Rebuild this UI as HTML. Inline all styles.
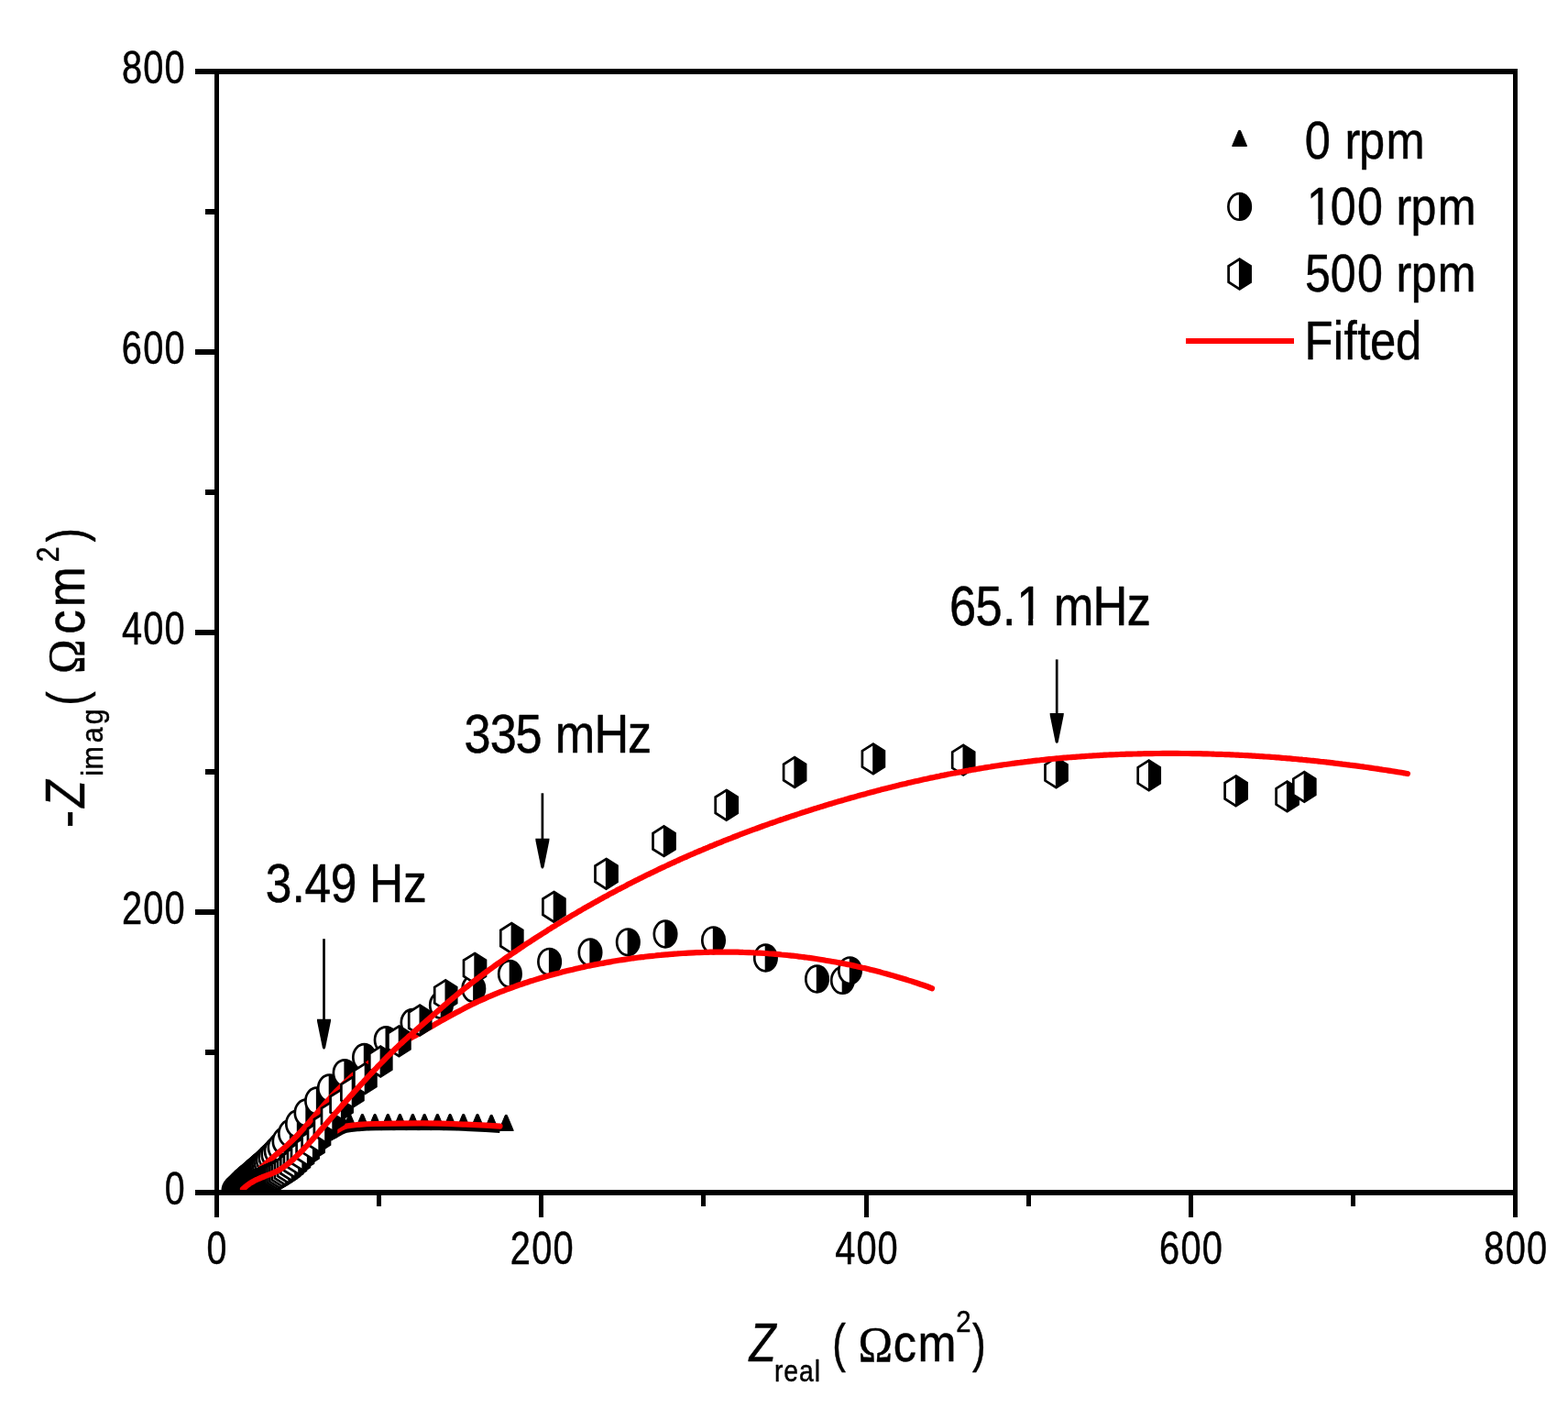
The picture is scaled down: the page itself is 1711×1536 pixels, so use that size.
<!DOCTYPE html>
<html lang="en"><head><meta charset="utf-8"><title>Nyquist plot</title>
<style>html,body{margin:0;padding:0;background:#fff;overflow:hidden}svg{display:block}text{white-space:pre}</style></head>
<body>
<svg width="1711" height="1536" viewBox="0 0 1711 1536" font-family='"Liberation Sans", sans-serif' fill="#000">
<defs>
<g id="tr"><path d="M-0.9,-8.6 L0.9,-8.6 L8,8.4 L-8,8.4 Z" fill="#000" stroke="#000" stroke-width="1" stroke-linejoin="round"/></g>
<g id="ci"><ellipse cx="0" cy="0" rx="12.2" ry="14.3" fill="#fff" stroke="#000" stroke-width="2.7"/><path d="M-0.7,-14.3 L0,-14.3 A12.2,14.3 0 0 1 0,14.3 L-0.7,14.3 Z" fill="#000"/></g>
<g id="hx"><path d="M0,-16.3 L12,-8.7 L12,8.7 L0,16.3 L-12,8.7 L-12,-8.7 Z" fill="#fff" stroke="#000" stroke-width="2.7" stroke-linejoin="miter"/><path d="M-0.7,-16.3 L0,-16.3 L12,-8.7 L12,8.7 L0,16.3 L-0.7,16.3 Z" fill="#000"/></g>
<clipPath id="cp"><rect x="236.5" y="78.0" width="1417.0" height="1225.0"/></clipPath>
</defs>
<rect width="1711" height="1536" fill="#fff"/>
<g clip-path="url(#cp)">
<g><use href="#tr" x="262.2" y="1299.9"/><use href="#tr" x="263.4" y="1299.5"/><use href="#tr" x="264.5" y="1299.1"/><use href="#tr" x="265.6" y="1298.7"/><use href="#tr" x="266.8" y="1298.3"/><use href="#tr" x="267.9" y="1297.9"/><use href="#tr" x="269.0" y="1297.5"/><use href="#tr" x="270.2" y="1297.1"/><use href="#tr" x="271.3" y="1296.7"/><use href="#tr" x="272.4" y="1296.3"/><use href="#tr" x="273.6" y="1295.9"/><use href="#tr" x="274.7" y="1295.5"/><use href="#tr" x="275.8" y="1295.1"/><use href="#tr" x="277.0" y="1294.7"/><use href="#tr" x="278.1" y="1294.3"/><use href="#tr" x="279.2" y="1293.9"/><use href="#tr" x="280.3" y="1293.4"/><use href="#tr" x="281.4" y="1293.0"/><use href="#tr" x="282.5" y="1292.5"/><use href="#tr" x="283.6" y="1292.0"/><use href="#tr" x="284.7" y="1291.5"/><use href="#tr" x="285.8" y="1291.1"/><use href="#tr" x="286.9" y="1290.6"/><use href="#tr" x="288.0" y="1290.1"/><use href="#tr" x="289.1" y="1289.7"/><use href="#tr" x="290.2" y="1289.2"/><use href="#tr" x="291.3" y="1288.7"/><use href="#tr" x="292.4" y="1288.2"/><use href="#tr" x="293.5" y="1287.7"/><use href="#tr" x="294.6" y="1287.2"/><use href="#tr" x="295.7" y="1286.7"/><use href="#tr" x="296.8" y="1286.1"/><use href="#tr" x="298.0" y="1285.5"/><use href="#tr" x="299.3" y="1284.8"/><use href="#tr" x="300.8" y="1284.1"/><use href="#tr" x="302.3" y="1283.4"/><use href="#tr" x="303.9" y="1282.5"/><use href="#tr" x="305.7" y="1281.7"/><use href="#tr" x="307.5" y="1280.7"/><use href="#tr" x="309.5" y="1279.6"/><use href="#tr" x="311.5" y="1278.2"/><use href="#tr" x="313.6" y="1276.6"/><use href="#tr" x="315.9" y="1275.0"/><use href="#tr" x="318.3" y="1273.2"/><use href="#tr" x="320.9" y="1271.2"/><use href="#tr" x="323.5" y="1268.9"/><use href="#tr" x="326.3" y="1266.3"/><use href="#tr" x="329.3" y="1263.6"/><use href="#tr" x="332.5" y="1260.7"/><use href="#tr" x="336.0" y="1257.5"/><use href="#tr" x="339.5" y="1254.0"/><use href="#tr" x="343.2" y="1250.0"/><use href="#tr" x="346.9" y="1245.5"/><use href="#tr" x="350.8" y="1240.6"/><use href="#tr" x="355.0" y="1235.3"/><use href="#tr" x="359.6" y="1229.7"/><use href="#tr" x="364.7" y="1223.9"/><use href="#tr" x="372.8" y="1222.2"/><use href="#tr" x="381.6" y="1224.2"/><use href="#tr" x="395.4" y="1224.2"/><use href="#tr" x="409.1" y="1224.2"/><use href="#tr" x="423.3" y="1224.2"/><use href="#tr" x="436.4" y="1224.2"/><use href="#tr" x="450.4" y="1224.2"/><use href="#tr" x="463.2" y="1224.2"/><use href="#tr" x="477.4" y="1224.2"/><use href="#tr" x="491.1" y="1224.2"/><use href="#tr" x="505.7" y="1224.2"/><use href="#tr" x="521.0" y="1224.2"/><use href="#tr" x="536.2" y="1225.0"/><use href="#tr" x="552.3" y="1225.0"/></g>
<path d="M360.0,1241.8C361.0,1241.3 364.0,1240.0 366.0,1238.9C368.0,1237.8 370.0,1236.3 372.0,1235.3C374.0,1234.3 375.0,1233.6 378.0,1232.9C381.0,1232.2 384.7,1231.7 390.0,1231.3C395.3,1230.9 398.3,1230.6 410.0,1230.3C421.7,1230.0 445.0,1229.7 460.0,1229.7C475.0,1229.8 488.3,1230.2 500.0,1230.6C511.7,1231.0 522.4,1231.5 530.0,1231.9C537.6,1232.3 542.9,1232.7 545.5,1232.9" fill="none" stroke="#000" stroke-width="6" stroke-linecap="butt"/>
<path d="M262.0,1299.0C264.8,1298.2 273.8,1295.8 279.0,1294.0C284.2,1292.2 288.0,1290.3 293.0,1288.0C298.0,1285.7 304.5,1282.7 309.0,1280.0C313.5,1277.3 316.5,1274.8 320.0,1272.0C323.5,1269.2 326.3,1266.4 330.0,1263.0C333.7,1259.6 338.3,1255.2 342.0,1251.5C345.7,1247.8 349.0,1243.3 352.0,1241.0C355.0,1238.7 357.7,1238.6 360.0,1237.5C362.3,1236.4 364.0,1235.7 366.0,1234.6C368.0,1233.5 370.0,1232.0 372.0,1231.0C374.0,1230.0 375.0,1229.3 378.0,1228.6C381.0,1227.9 384.7,1227.4 390.0,1227.0C395.3,1226.6 398.3,1226.3 410.0,1226.0C421.7,1225.7 445.0,1225.4 460.0,1225.4C475.0,1225.5 488.3,1225.9 500.0,1226.3C511.7,1226.7 522.4,1227.2 530.0,1227.6C537.6,1228.0 542.9,1228.4 545.5,1228.6" fill="none" stroke="#ff0000" stroke-width="6.2" stroke-linecap="round" stroke-linejoin="round"/>
<g><use href="#ci" x="255.0" y="1299.0"/><use href="#ci" x="255.9" y="1298.1"/><use href="#ci" x="256.7" y="1297.3"/><use href="#ci" x="257.6" y="1296.4"/><use href="#ci" x="258.4" y="1295.6"/><use href="#ci" x="259.3" y="1294.7"/><use href="#ci" x="260.1" y="1293.9"/><use href="#ci" x="261.0" y="1293.0"/><use href="#ci" x="261.8" y="1292.2"/><use href="#ci" x="262.7" y="1291.3"/><use href="#ci" x="263.5" y="1290.5"/><use href="#ci" x="264.3" y="1289.7"/><use href="#ci" x="265.3" y="1288.9"/><use href="#ci" x="266.2" y="1288.1"/><use href="#ci" x="267.1" y="1287.3"/><use href="#ci" x="268.0" y="1286.5"/><use href="#ci" x="268.9" y="1285.7"/><use href="#ci" x="269.8" y="1285.0"/><use href="#ci" x="270.7" y="1284.2"/><use href="#ci" x="271.6" y="1283.4"/><use href="#ci" x="272.6" y="1282.6"/><use href="#ci" x="273.5" y="1281.9"/><use href="#ci" x="274.4" y="1281.1"/><use href="#ci" x="275.3" y="1280.3"/><use href="#ci" x="276.2" y="1279.5"/><use href="#ci" x="277.1" y="1278.7"/><use href="#ci" x="278.0" y="1277.9"/><use href="#ci" x="278.9" y="1277.1"/><use href="#ci" x="280.0" y="1276.2"/><use href="#ci" x="281.1" y="1275.2"/><use href="#ci" x="282.5" y="1274.0"/><use href="#ci" x="283.9" y="1272.7"/><use href="#ci" x="285.6" y="1271.1"/><use href="#ci" x="287.6" y="1269.4"/><use href="#ci" x="289.7" y="1267.4"/><use href="#ci" x="292.1" y="1265.0"/><use href="#ci" x="294.8" y="1262.3"/><use href="#ci" x="297.9" y="1259.3"/><use href="#ci" x="301.2" y="1255.6"/><use href="#ci" x="305.0" y="1251.5"/><use href="#ci" x="310.0" y="1245.0"/><use href="#ci" x="316.5" y="1236.5"/><use href="#ci" x="324.5" y="1226.0"/><use href="#ci" x="334.0" y="1214.0"/><use href="#ci" x="345.6" y="1201.0"/><use href="#ci" x="359.4" y="1187.0"/><use href="#ci" x="376.1" y="1170.6"/><use href="#ci" x="397.5" y="1153.5"/><use href="#ci" x="421.2" y="1134.6"/><use href="#ci" x="450.0" y="1115.5"/><use href="#ci" x="481.4" y="1096.5"/><use href="#ci" x="516.8" y="1078.5"/><use href="#ci" x="556.4" y="1062.4"/><use href="#ci" x="599.6" y="1049.3"/><use href="#ci" x="644.0" y="1039.0"/><use href="#ci" x="685.3" y="1027.8"/><use href="#ci" x="726.0" y="1019.0"/><use href="#ci" x="778.5" y="1025.8"/><use href="#ci" x="835.4" y="1045.0"/><use href="#ci" x="891.5" y="1068.0"/><use href="#ci" x="919.4" y="1069.4"/><use href="#ci" x="927.5" y="1058.8"/></g>
<path d="M265.0,1298.0C266.0,1296.6 269.0,1292.3 271.0,1289.7C273.0,1287.1 275.0,1284.7 277.0,1282.4C279.0,1280.1 281.0,1278.0 283.0,1276.0C285.0,1274.0 287.0,1272.1 289.0,1270.3C291.0,1268.4 293.0,1266.7 295.0,1265.0C297.0,1263.2 299.0,1261.6 301.0,1259.9C303.0,1258.2 305.0,1256.6 307.0,1254.9C309.0,1253.2 311.0,1251.5 313.0,1249.7C315.0,1247.9 317.0,1246.0 319.0,1244.1C321.0,1242.1 323.0,1240.1 325.0,1238.0C327.0,1235.9 329.0,1233.7 331.0,1231.5C333.0,1229.3 335.0,1227.0 337.0,1224.7C339.0,1222.4 341.0,1220.1 343.0,1217.8C345.0,1215.5 347.0,1213.1 349.0,1210.8C351.0,1208.5 353.0,1206.1 355.0,1203.8C357.0,1201.5 359.0,1199.3 361.0,1197.0C363.0,1194.8 365.0,1192.6 367.0,1190.5C369.0,1188.4 371.0,1186.4 373.0,1184.4C375.0,1182.4 377.0,1180.5 379.0,1178.7C381.0,1176.9 383.0,1175.1 385.0,1173.4C387.0,1171.7 389.0,1170.0 391.0,1168.4C393.0,1166.8 395.0,1165.3 397.0,1163.8C399.0,1162.3 401.0,1160.9 403.0,1159.5C405.0,1158.1 407.0,1156.7 409.0,1155.4C411.0,1154.1 413.0,1152.8 415.0,1151.5C417.0,1150.3 419.0,1149.1 421.0,1147.9C423.0,1146.7 425.0,1145.5 427.0,1144.3C429.0,1143.2 431.0,1142.0 433.0,1140.9C435.0,1139.8 437.0,1138.6 439.0,1137.5C441.0,1136.4 443.0,1135.3 445.0,1134.2C447.0,1133.1 449.0,1132.0 451.0,1130.9C453.0,1129.8 455.0,1128.6 457.0,1127.5C459.0,1126.4 461.0,1125.3 463.0,1124.1C465.0,1123.0 467.0,1121.9 469.0,1120.7C471.0,1119.6 473.0,1118.5 475.0,1117.3C477.0,1116.2 479.0,1115.1 481.0,1113.9C483.0,1112.8 485.0,1111.7 487.0,1110.6C489.0,1109.5 491.0,1108.4 493.0,1107.3C495.0,1106.2 497.0,1105.1 499.0,1104.0C501.0,1103.0 503.0,1101.9 505.0,1100.9C507.0,1099.8 509.0,1098.8 511.0,1097.8C513.0,1096.8 515.0,1095.8 517.0,1094.8C519.0,1093.9 521.0,1092.9 523.0,1092.0C525.0,1091.1 527.0,1090.2 529.0,1089.3C531.0,1088.4 533.0,1087.5 535.0,1086.7C537.0,1085.8 539.0,1085.0 541.0,1084.1C543.0,1083.3 545.0,1082.5 547.0,1081.7C549.0,1080.9 551.0,1080.2 553.0,1079.4C555.0,1078.6 557.0,1077.9 559.0,1077.2C561.0,1076.5 563.0,1075.7 565.0,1075.0C567.0,1074.3 569.0,1073.7 571.0,1073.0C573.0,1072.3 575.0,1071.7 577.0,1071.0C579.0,1070.4 581.0,1069.7 583.0,1069.1C585.0,1068.5 587.0,1067.9 589.0,1067.3C591.0,1066.7 593.0,1066.1 595.0,1065.5C597.0,1065.0 599.0,1064.4 601.0,1063.8C603.0,1063.3 605.0,1062.7 607.0,1062.2C609.0,1061.7 611.0,1061.2 613.0,1060.6C615.0,1060.1 617.0,1059.6 619.0,1059.1C621.0,1058.6 623.0,1058.1 625.0,1057.7C627.0,1057.2 629.0,1056.7 631.0,1056.3C633.0,1055.8 635.0,1055.4 637.0,1054.9C639.0,1054.5 641.0,1054.1 643.0,1053.6C645.0,1053.2 647.0,1052.8 649.0,1052.4C651.0,1052.0 653.0,1051.6 655.0,1051.2C657.0,1050.9 659.0,1050.5 661.0,1050.1C663.0,1049.8 665.0,1049.4 667.0,1049.1C669.0,1048.7 671.0,1048.4 673.0,1048.0C675.0,1047.7 677.0,1047.4 679.0,1047.1C681.0,1046.8 683.0,1046.5 685.0,1046.2C687.0,1045.9 689.0,1045.6 691.0,1045.3C693.0,1045.1 695.0,1044.8 697.0,1044.5C699.0,1044.3 701.0,1044.0 703.0,1043.8C705.0,1043.5 707.0,1043.3 709.0,1043.1C711.0,1042.9 713.0,1042.7 715.0,1042.5C717.0,1042.2 719.0,1042.0 721.0,1041.9C723.0,1041.7 725.0,1041.5 727.0,1041.3C729.0,1041.1 731.0,1041.0 733.0,1040.8C735.0,1040.7 737.0,1040.5 739.0,1040.4C741.0,1040.2 743.0,1040.1 745.0,1040.0C747.0,1039.9 749.0,1039.7 751.0,1039.6C753.0,1039.5 755.0,1039.4 757.0,1039.3C759.0,1039.2 761.0,1039.2 763.0,1039.1C765.0,1039.0 767.0,1038.9 769.0,1038.9C771.0,1038.8 773.0,1038.8 775.0,1038.7C777.0,1038.7 779.0,1038.6 781.0,1038.6C783.0,1038.6 785.0,1038.6 787.0,1038.6C789.0,1038.6 791.0,1038.6 793.0,1038.6C795.0,1038.6 797.0,1038.6 799.0,1038.6C801.0,1038.7 803.0,1038.7 805.0,1038.7C807.0,1038.8 809.0,1038.8 811.0,1038.9C813.0,1038.9 815.0,1039.0 817.0,1039.1C819.0,1039.2 821.0,1039.3 823.0,1039.4C825.0,1039.4 827.0,1039.6 829.0,1039.7C831.0,1039.8 833.0,1039.9 835.0,1040.0C837.0,1040.2 839.0,1040.3 841.0,1040.5C843.0,1040.6 845.0,1040.8 847.0,1040.9C849.0,1041.1 851.0,1041.3 853.0,1041.5C855.0,1041.6 857.0,1041.8 859.0,1042.0C861.0,1042.2 863.0,1042.5 865.0,1042.7C867.0,1042.9 869.0,1043.1 871.0,1043.4C873.0,1043.6 875.0,1043.9 877.0,1044.1C879.0,1044.4 881.0,1044.6 883.0,1044.9C885.0,1045.2 887.0,1045.5 889.0,1045.8C891.0,1046.1 893.0,1046.4 895.0,1046.7C897.0,1047.0 899.0,1047.3 901.0,1047.7C903.0,1048.0 905.0,1048.4 907.0,1048.7C909.0,1049.1 911.0,1049.4 913.0,1049.8C915.0,1050.2 917.0,1050.5 919.0,1050.9C921.0,1051.3 923.0,1051.7 925.0,1052.1C927.0,1052.6 929.0,1053.0 931.0,1053.4C933.0,1053.8 935.0,1054.3 937.0,1054.7C939.0,1055.2 941.0,1055.6 943.0,1056.1C945.0,1056.6 947.0,1057.1 949.0,1057.6C951.0,1058.0 953.0,1058.6 955.0,1059.1C957.0,1059.6 959.0,1060.1 961.0,1060.6C963.0,1061.2 965.0,1061.7 967.0,1062.2C969.0,1062.8 971.0,1063.4 973.0,1063.9C975.0,1064.5 977.0,1065.1 979.0,1065.7C981.0,1066.3 983.0,1066.9 985.0,1067.5C987.0,1068.1 989.0,1068.7 991.0,1069.4C993.0,1070.0 995.0,1070.6 997.0,1071.3C999.0,1071.9 1001.0,1072.6 1003.0,1073.3C1005.0,1074.0 1007.0,1074.6 1009.0,1075.3C1011.0,1076.0 1013.7,1077.0 1015.0,1077.5C1016.3,1077.9 1016.7,1078.1 1017.0,1078.2" fill="none" stroke="#ff0000" stroke-width="6.2" stroke-linecap="round" stroke-linejoin="round"/>
<g><use href="#hx" x="260.4" y="1300.3"/><use href="#hx" x="261.5" y="1299.9"/><use href="#hx" x="262.6" y="1299.5"/><use href="#hx" x="263.8" y="1299.1"/><use href="#hx" x="264.9" y="1298.7"/><use href="#hx" x="266.0" y="1298.2"/><use href="#hx" x="267.1" y="1297.8"/><use href="#hx" x="268.3" y="1297.4"/><use href="#hx" x="269.4" y="1296.9"/><use href="#hx" x="270.4" y="1296.4"/><use href="#hx" x="271.5" y="1295.9"/><use href="#hx" x="272.6" y="1295.4"/><use href="#hx" x="273.7" y="1294.9"/><use href="#hx" x="274.8" y="1294.4"/><use href="#hx" x="275.9" y="1293.9"/><use href="#hx" x="277.0" y="1293.4"/><use href="#hx" x="278.1" y="1292.9"/><use href="#hx" x="279.2" y="1292.4"/><use href="#hx" x="280.3" y="1291.9"/><use href="#hx" x="281.4" y="1291.4"/><use href="#hx" x="282.5" y="1290.9"/><use href="#hx" x="283.5" y="1290.4"/><use href="#hx" x="284.6" y="1289.9"/><use href="#hx" x="285.7" y="1289.4"/><use href="#hx" x="286.8" y="1288.9"/><use href="#hx" x="287.9" y="1288.4"/><use href="#hx" x="289.0" y="1287.9"/><use href="#hx" x="290.1" y="1287.4"/><use href="#hx" x="291.2" y="1286.9"/><use href="#hx" x="292.5" y="1286.3"/><use href="#hx" x="293.9" y="1285.7"/><use href="#hx" x="295.4" y="1285.0"/><use href="#hx" x="297.1" y="1284.3"/><use href="#hx" x="299.1" y="1283.5"/><use href="#hx" x="301.2" y="1282.5"/><use href="#hx" x="303.5" y="1281.4"/><use href="#hx" x="306.1" y="1280.1"/><use href="#hx" x="308.7" y="1278.4"/><use href="#hx" x="311.8" y="1276.6"/><use href="#hx" x="315.0" y="1274.4"/><use href="#hx" x="318.3" y="1271.5"/><use href="#hx" x="321.9" y="1268.2"/><use href="#hx" x="325.9" y="1264.6"/><use href="#hx" x="330.0" y="1260.2"/><use href="#hx" x="335.6" y="1254.8"/><use href="#hx" x="341.6" y="1248.4"/><use href="#hx" x="348.0" y="1240.0"/><use href="#hx" x="354.9" y="1229.8"/><use href="#hx" x="363.0" y="1217.6"/><use href="#hx" x="372.6" y="1204.8"/><use href="#hx" x="384.4" y="1191.6"/><use href="#hx" x="398.4" y="1176.6"/><use href="#hx" x="415.3" y="1158.0"/><use href="#hx" x="435.4" y="1135.8"/><use href="#hx" x="458.2" y="1113.0"/><use href="#hx" x="486.2" y="1085.6"/><use href="#hx" x="518.0" y="1056.3"/><use href="#hx" x="558.3" y="1023.5"/><use href="#hx" x="604.4" y="989.3"/><use href="#hx" x="661.5" y="953.3"/><use href="#hx" x="724.5" y="917.7"/><use href="#hx" x="792.7" y="878.3"/><use href="#hx" x="867.1" y="842.5"/><use href="#hx" x="952.9" y="827.9"/><use href="#hx" x="1051.2" y="829.1"/><use href="#hx" x="1152.5" y="842.9"/><use href="#hx" x="1253.7" y="845.9"/><use href="#hx" x="1348.6" y="862.8"/><use href="#hx" x="1404.6" y="868.9"/><use href="#hx" x="1423.3" y="858.4"/></g>
<path d="M265.0,1297.2C265.7,1296.6 267.7,1294.7 269.0,1293.7C270.3,1292.6 271.7,1291.7 273.0,1290.8C274.3,1289.9 275.7,1289.1 277.0,1288.4C278.3,1287.7 279.7,1287.1 281.0,1286.5C282.3,1285.8 283.7,1285.3 285.0,1284.8C286.3,1284.2 287.7,1283.7 289.0,1283.2C290.3,1282.7 291.7,1282.2 293.0,1281.7C294.3,1281.2 295.7,1280.7 297.0,1280.1C298.3,1279.5 299.7,1279.0 301.0,1278.3C302.3,1277.6 303.7,1276.9 305.0,1276.1C306.3,1275.3 307.7,1274.5 309.0,1273.5C310.3,1272.6 311.7,1271.6 313.0,1270.6C314.3,1269.6 315.7,1268.5 317.0,1267.3C318.3,1266.2 319.7,1265.0 321.0,1263.7C322.3,1262.5 323.7,1261.2 325.0,1259.9C326.3,1258.6 327.7,1257.3 329.0,1255.9C330.3,1254.5 331.7,1253.1 333.0,1251.7C334.3,1250.3 335.7,1248.8 337.0,1247.4C338.3,1245.9 339.7,1244.5 341.0,1243.0C342.3,1241.5 343.7,1240.0 345.0,1238.5C346.3,1237.0 347.7,1235.5 349.0,1233.9C350.3,1232.4 351.7,1230.9 353.0,1229.4C354.3,1227.8 355.7,1226.3 357.0,1224.7C358.3,1223.2 359.7,1221.7 361.0,1220.1C362.3,1218.6 363.7,1217.1 365.0,1215.5C366.3,1214.0 367.7,1212.5 369.0,1211.0C370.3,1209.4 371.7,1207.9 373.0,1206.4C374.3,1204.9 375.7,1203.4 377.0,1201.9C378.3,1200.4 379.7,1198.9 381.0,1197.4C382.3,1195.9 383.7,1194.4 385.0,1192.9C386.3,1191.4 387.7,1190.0 389.0,1188.5C390.3,1187.0 391.7,1185.5 393.0,1184.1C394.3,1182.6 395.7,1181.2 397.0,1179.7C398.3,1178.3 399.7,1176.8 401.0,1175.4C402.3,1174.0 403.7,1172.5 405.0,1171.1C406.3,1169.7 407.7,1168.3 409.0,1166.9C410.3,1165.5 411.7,1164.1 413.0,1162.7C414.3,1161.3 415.7,1159.9 417.0,1158.6C418.3,1157.2 419.7,1155.8 421.0,1154.5C422.3,1153.1 423.7,1151.8 425.0,1150.5C426.3,1149.2 427.7,1147.8 429.0,1146.5C430.3,1145.3 431.7,1144.0 433.0,1142.7C434.3,1141.4 435.7,1140.2 437.0,1138.9C438.3,1137.7 439.7,1136.5 441.0,1135.3C442.3,1134.1 443.7,1132.9 445.0,1131.7C446.3,1130.5 447.7,1129.4 449.0,1128.2C450.3,1127.0 451.7,1125.8 453.0,1124.7C454.3,1123.5 455.7,1122.3 457.0,1121.1C458.3,1120.0 459.7,1118.8 461.0,1117.6C462.3,1116.4 463.7,1115.3 465.0,1114.1C466.3,1112.9 467.7,1111.8 469.0,1110.6C470.3,1109.4 471.7,1108.2 473.0,1107.1C474.3,1105.9 475.7,1104.7 477.0,1103.6C478.3,1102.4 479.7,1101.3 481.0,1100.1C482.3,1098.9 483.7,1097.8 485.0,1096.6C486.3,1095.5 487.7,1094.4 489.0,1093.2C490.3,1092.1 491.7,1091.0 493.0,1089.8C494.3,1088.7 495.7,1087.6 497.0,1086.5C498.3,1085.4 499.7,1084.3 501.0,1083.2C502.3,1082.1 503.7,1081.0 505.0,1080.0C506.3,1078.9 507.7,1077.8 509.0,1076.8C510.3,1075.7 511.7,1074.7 513.0,1073.6C514.3,1072.6 515.7,1071.5 517.0,1070.5C518.3,1069.5 519.7,1068.5 521.0,1067.5C522.3,1066.5 523.7,1065.5 525.0,1064.5C526.3,1063.5 527.7,1062.5 529.0,1061.5C530.3,1060.5 531.7,1059.5 533.0,1058.6C534.3,1057.6 535.7,1056.6 537.0,1055.7C538.3,1054.7 539.7,1053.8 541.0,1052.8C542.3,1051.9 543.7,1050.9 545.0,1050.0C546.3,1049.0 547.7,1048.1 549.0,1047.2C550.3,1046.2 551.7,1045.3 553.0,1044.4C554.3,1043.5 555.7,1042.5 557.0,1041.6C558.3,1040.7 559.7,1039.8 561.0,1038.9C562.3,1038.0 563.7,1037.1 565.0,1036.2C566.3,1035.3 567.7,1034.4 569.0,1033.5C570.3,1032.6 571.7,1031.7 573.0,1030.8C574.3,1029.9 575.7,1029.0 577.0,1028.2C578.3,1027.3 579.7,1026.4 581.0,1025.5C582.3,1024.7 583.7,1023.8 585.0,1022.9C586.3,1022.1 587.7,1021.2 589.0,1020.4C590.3,1019.5 591.7,1018.7 593.0,1017.8C594.3,1017.0 595.7,1016.1 597.0,1015.3C598.3,1014.4 599.7,1013.6 601.0,1012.8C602.3,1011.9 603.7,1011.1 605.0,1010.3C606.3,1009.5 607.7,1008.7 609.0,1007.8C610.3,1007.0 611.7,1006.2 613.0,1005.4C614.3,1004.6 615.7,1003.8 617.0,1003.0C618.3,1002.2 619.7,1001.4 621.0,1000.6C622.3,999.8 623.7,999.0 625.0,998.2C626.3,997.4 627.7,996.6 629.0,995.9C630.3,995.1 631.7,994.3 633.0,993.5C634.3,992.7 635.7,992.0 637.0,991.2C638.3,990.4 639.7,989.7 641.0,988.9C642.3,988.2 643.7,987.4 645.0,986.7C646.3,985.9 647.7,985.2 649.0,984.4C650.3,983.7 651.7,982.9 653.0,982.2C654.3,981.4 655.7,980.7 657.0,980.0C658.3,979.2 659.7,978.5 661.0,977.8C662.3,977.1 663.7,976.3 665.0,975.6C666.3,974.9 667.7,974.2 669.0,973.5C670.3,972.8 671.7,972.1 673.0,971.3C674.3,970.6 675.7,969.9 677.0,969.2C678.3,968.5 679.7,967.8 681.0,967.2C682.3,966.5 683.7,965.8 685.0,965.1C686.3,964.4 687.7,963.7 689.0,963.0C690.3,962.4 691.7,961.7 693.0,961.0C694.3,960.3 695.7,959.7 697.0,959.0C698.3,958.3 699.7,957.7 701.0,957.0C702.3,956.4 703.7,955.7 705.0,955.0C706.3,954.4 707.7,953.7 709.0,953.1C710.3,952.4 711.7,951.8 713.0,951.2C714.3,950.5 715.7,949.9 717.0,949.2C718.3,948.6 719.7,948.0 721.0,947.3C722.3,946.7 723.7,946.1 725.0,945.5C726.3,944.8 727.7,944.2 729.0,943.6C730.3,943.0 731.7,942.4 733.0,941.8C734.3,941.2 735.7,940.5 737.0,939.9C738.3,939.3 739.7,938.7 741.0,938.1C742.3,937.5 743.7,936.9 745.0,936.3C746.3,935.7 747.7,935.2 749.0,934.6C750.3,934.0 751.7,933.4 753.0,932.8C754.3,932.2 755.7,931.6 757.0,931.1C758.3,930.5 759.7,929.9 761.0,929.3C762.3,928.8 763.7,928.2 765.0,927.6C766.3,927.1 767.7,926.5 769.0,926.0C770.3,925.4 771.7,924.8 773.0,924.3C774.3,923.7 775.7,923.2 777.0,922.6C778.3,922.1 779.7,921.5 781.0,921.0C782.3,920.4 783.7,919.9 785.0,919.4C786.3,918.8 787.7,918.3 789.0,917.7C790.3,917.2 791.7,916.7 793.0,916.2C794.3,915.6 795.7,915.1 797.0,914.6C798.3,914.1 799.7,913.5 801.0,913.0C802.3,912.5 803.7,912.0 805.0,911.5C806.3,911.0 807.7,910.4 809.0,909.9C810.3,909.4 811.7,908.9 813.0,908.4C814.3,907.9 815.7,907.4 817.0,906.9C818.3,906.4 819.7,905.9 821.0,905.4C822.3,904.9 823.7,904.4 825.0,904.0C826.3,903.5 827.7,903.0 829.0,902.5C830.3,902.0 831.7,901.5 833.0,901.0C834.3,900.6 835.7,900.1 837.0,899.6C838.3,899.1 839.7,898.7 841.0,898.2C842.3,897.7 843.7,897.3 845.0,896.8C846.3,896.3 847.7,895.9 849.0,895.4C850.3,895.0 851.7,894.5 853.0,894.0C854.3,893.6 855.7,893.1 857.0,892.7C858.3,892.2 859.7,891.8 861.0,891.3C862.3,890.9 863.7,890.4 865.0,890.0C866.3,889.5 867.7,889.1 869.0,888.7C870.3,888.2 871.7,887.8 873.0,887.4C874.3,886.9 875.7,886.5 877.0,886.1C878.3,885.6 879.7,885.2 881.0,884.8C882.3,884.3 883.7,883.9 885.0,883.5C886.3,883.1 887.7,882.7 889.0,882.2C890.3,881.8 891.7,881.4 893.0,881.0C894.3,880.6 895.7,880.2 897.0,879.8C898.3,879.3 899.7,878.9 901.0,878.5C902.3,878.1 903.7,877.7 905.0,877.3C906.3,876.9 907.7,876.5 909.0,876.1C910.3,875.7 911.7,875.3 913.0,874.9C914.3,874.5 915.7,874.1 917.0,873.8C918.3,873.4 919.7,873.0 921.0,872.6C922.3,872.2 923.7,871.8 925.0,871.4C926.3,871.1 927.7,870.7 929.0,870.3C930.3,869.9 931.7,869.5 933.0,869.2C934.3,868.8 935.7,868.4 937.0,868.0C938.3,867.7 939.7,867.3 941.0,866.9C942.3,866.6 943.7,866.2 945.0,865.9C946.3,865.5 947.7,865.1 949.0,864.8C950.3,864.4 951.7,864.1 953.0,863.7C954.3,863.3 955.7,863.0 957.0,862.6C958.3,862.3 959.7,862.0 961.0,861.6C962.3,861.3 963.7,860.9 965.0,860.6C966.3,860.2 967.7,859.9 969.0,859.6C970.3,859.2 971.7,858.9 973.0,858.6C974.3,858.2 975.7,857.9 977.0,857.6C978.3,857.2 979.7,856.9 981.0,856.6C982.3,856.3 983.7,855.9 985.0,855.6C986.3,855.3 987.7,855.0 989.0,854.7C990.3,854.3 991.7,854.0 993.0,853.7C994.3,853.4 995.7,853.1 997.0,852.8C998.3,852.5 999.7,852.2 1001.0,851.9C1002.3,851.6 1003.7,851.3 1005.0,851.0C1006.3,850.7 1007.7,850.4 1009.0,850.1C1010.3,849.8 1011.7,849.5 1013.0,849.2C1014.3,848.9 1015.7,848.6 1017.0,848.4C1018.3,848.1 1019.7,847.8 1021.0,847.5C1022.3,847.2 1023.7,847.0 1025.0,846.7C1026.3,846.4 1027.7,846.1 1029.0,845.9C1030.3,845.6 1031.7,845.3 1033.0,845.1C1034.3,844.8 1035.7,844.5 1037.0,844.3C1038.3,844.0 1039.7,843.7 1041.0,843.5C1042.3,843.2 1043.7,843.0 1045.0,842.7C1046.3,842.5 1047.7,842.2 1049.0,842.0C1050.3,841.7 1051.7,841.5 1053.0,841.2C1054.3,841.0 1055.7,840.7 1057.0,840.5C1058.3,840.3 1059.7,840.0 1061.0,839.8C1062.3,839.6 1063.7,839.3 1065.0,839.1C1066.3,838.9 1067.7,838.6 1069.0,838.4C1070.3,838.2 1071.7,838.0 1073.0,837.7C1074.3,837.5 1075.7,837.3 1077.0,837.1C1078.3,836.9 1079.7,836.7 1081.0,836.5C1082.3,836.2 1083.7,836.0 1085.0,835.8C1086.3,835.6 1087.7,835.4 1089.0,835.2C1090.3,835.0 1091.7,834.8 1093.0,834.6C1094.3,834.4 1095.7,834.2 1097.0,834.0C1098.3,833.8 1099.7,833.7 1101.0,833.5C1102.3,833.3 1103.7,833.1 1105.0,832.9C1106.3,832.7 1107.7,832.6 1109.0,832.4C1110.3,832.2 1111.7,832.0 1113.0,831.9C1114.3,831.7 1115.7,831.5 1117.0,831.4C1118.3,831.2 1119.7,831.0 1121.0,830.9C1122.3,830.7 1123.7,830.5 1125.0,830.4C1126.3,830.2 1127.7,830.1 1129.0,829.9C1130.3,829.8 1131.7,829.6 1133.0,829.5C1134.3,829.3 1135.7,829.2 1137.0,829.0C1138.3,828.9 1139.7,828.8 1141.0,828.6C1142.3,828.5 1143.7,828.3 1145.0,828.2C1146.3,828.1 1147.7,827.9 1149.0,827.8C1150.3,827.7 1151.7,827.6 1153.0,827.4C1154.3,827.3 1155.7,827.2 1157.0,827.1C1158.3,827.0 1159.7,826.8 1161.0,826.7C1162.3,826.6 1163.7,826.5 1165.0,826.4C1166.3,826.3 1167.7,826.2 1169.0,826.1C1170.3,826.0 1171.7,825.9 1173.0,825.8C1174.3,825.7 1175.7,825.6 1177.0,825.5C1178.3,825.4 1179.7,825.3 1181.0,825.2C1182.3,825.1 1183.7,825.0 1185.0,824.9C1186.3,824.8 1187.7,824.7 1189.0,824.6C1190.3,824.6 1191.7,824.5 1193.0,824.4C1194.3,824.3 1195.7,824.2 1197.0,824.2C1198.3,824.1 1199.7,824.0 1201.0,823.9C1202.3,823.9 1203.7,823.8 1205.0,823.7C1206.3,823.7 1207.7,823.6 1209.0,823.5C1210.3,823.5 1211.7,823.4 1213.0,823.4C1214.3,823.3 1215.7,823.2 1217.0,823.2C1218.3,823.1 1219.7,823.1 1221.0,823.0C1222.3,823.0 1223.7,822.9 1225.0,822.9C1226.3,822.8 1227.7,822.8 1229.0,822.7C1230.3,822.7 1231.7,822.6 1233.0,822.6C1234.3,822.6 1235.7,822.5 1237.0,822.5C1238.3,822.4 1239.7,822.4 1241.0,822.4C1242.3,822.3 1243.7,822.3 1245.0,822.3C1246.3,822.3 1247.7,822.2 1249.0,822.2C1250.3,822.2 1251.7,822.2 1253.0,822.1C1254.3,822.1 1255.7,822.1 1257.0,822.1C1258.3,822.0 1259.7,822.0 1261.0,822.0C1262.3,822.0 1263.7,822.0 1265.0,822.0C1266.3,822.0 1267.7,822.0 1269.0,821.9C1270.3,821.9 1271.7,821.9 1273.0,821.9C1274.3,821.9 1275.7,821.9 1277.0,821.9C1278.3,821.9 1279.7,821.9 1281.0,821.9C1282.3,821.9 1283.7,821.9 1285.0,821.9C1286.3,821.9 1287.7,821.9 1289.0,822.0C1290.3,822.0 1291.7,822.0 1293.0,822.0C1294.3,822.0 1295.7,822.0 1297.0,822.0C1298.3,822.1 1299.7,822.1 1301.0,822.1C1302.3,822.1 1303.7,822.1 1305.0,822.2C1306.3,822.2 1307.7,822.2 1309.0,822.2C1310.3,822.3 1311.7,822.3 1313.0,822.3C1314.3,822.4 1315.7,822.4 1317.0,822.4C1318.3,822.5 1319.7,822.5 1321.0,822.5C1322.3,822.6 1323.7,822.6 1325.0,822.7C1326.3,822.7 1327.7,822.7 1329.0,822.8C1330.3,822.8 1331.7,822.9 1333.0,822.9C1334.3,823.0 1335.7,823.0 1337.0,823.1C1338.3,823.1 1339.7,823.2 1341.0,823.2C1342.3,823.3 1343.7,823.4 1345.0,823.4C1346.3,823.5 1347.7,823.5 1349.0,823.6C1350.3,823.7 1351.7,823.7 1353.0,823.8C1354.3,823.9 1355.7,823.9 1357.0,824.0C1358.3,824.1 1359.7,824.1 1361.0,824.2C1362.3,824.3 1363.7,824.4 1365.0,824.4C1366.3,824.5 1367.7,824.6 1369.0,824.7C1370.3,824.8 1371.7,824.8 1373.0,824.9C1374.3,825.0 1375.7,825.1 1377.0,825.2C1378.3,825.3 1379.7,825.4 1381.0,825.5C1382.3,825.5 1383.7,825.6 1385.0,825.7C1386.3,825.8 1387.7,825.9 1389.0,826.0C1390.3,826.1 1391.7,826.2 1393.0,826.3C1394.3,826.4 1395.7,826.5 1397.0,826.6C1398.3,826.7 1399.7,826.9 1401.0,827.0C1402.3,827.1 1403.7,827.2 1405.0,827.3C1406.3,827.4 1407.7,827.5 1409.0,827.6C1410.3,827.8 1411.7,827.9 1413.0,828.0C1414.3,828.1 1415.7,828.2 1417.0,828.4C1418.3,828.5 1419.7,828.6 1421.0,828.7C1422.3,828.9 1423.7,829.0 1425.0,829.1C1426.3,829.3 1427.7,829.4 1429.0,829.5C1430.3,829.7 1431.7,829.8 1433.0,829.9C1434.3,830.1 1435.7,830.2 1437.0,830.3C1438.3,830.5 1439.7,830.6 1441.0,830.8C1442.3,830.9 1443.7,831.1 1445.0,831.2C1446.3,831.4 1447.7,831.5 1449.0,831.7C1450.3,831.8 1451.7,832.0 1453.0,832.1C1454.3,832.3 1455.7,832.4 1457.0,832.6C1458.3,832.7 1459.7,832.9 1461.0,833.1C1462.3,833.2 1463.7,833.4 1465.0,833.6C1466.3,833.7 1467.7,833.9 1469.0,834.1C1470.3,834.2 1471.7,834.4 1473.0,834.6C1474.3,834.7 1475.7,834.9 1477.0,835.1C1478.3,835.3 1479.7,835.5 1481.0,835.6C1482.3,835.8 1483.7,836.0 1485.0,836.2C1486.3,836.4 1487.7,836.5 1489.0,836.7C1490.3,836.9 1491.7,837.1 1493.0,837.3C1494.3,837.5 1495.7,837.7 1497.0,837.9C1498.3,838.1 1499.7,838.3 1501.0,838.5C1502.3,838.7 1503.7,838.8 1505.0,839.1C1506.3,839.3 1507.7,839.5 1509.0,839.7C1510.3,839.9 1511.7,840.1 1513.0,840.3C1514.3,840.5 1515.7,840.7 1517.0,840.9C1518.3,841.1 1519.7,841.3 1521.0,841.5C1522.3,841.8 1523.7,842.0 1525.0,842.2C1526.3,842.4 1527.7,842.6 1529.0,842.8C1530.3,843.1 1531.8,843.3 1533.0,843.5C1534.2,843.7 1535.5,843.9 1536.0,844.0" fill="none" stroke="#ff0000" stroke-width="6.2" stroke-linecap="round" stroke-linejoin="round"/>
</g>
<g fill="#000" shape-rendering="crispEdges">
<rect x="212.9" y="75" width="1443.1" height="6"/>
<rect x="212.9" y="1298" width="1443.1" height="6"/>
<rect x="234" y="75" width="5" height="1253"/>
<rect x="1651" y="75.5" width="5" height="1252.5"/>
<rect x="411.1" y="1301" width="5" height="14.8"/>
<rect x="223.9" y="1145.1" width="12.6" height="6.1"/>
<rect x="588.2" y="1301" width="5" height="27.0"/>
<rect x="212.9" y="992.2" width="23.6" height="6.1"/>
<rect x="765.4" y="1301" width="5" height="14.8"/>
<rect x="223.9" y="839.3" width="12.6" height="6.1"/>
<rect x="942.5" y="1301" width="5" height="27.0"/>
<rect x="212.9" y="686.5" width="23.6" height="6.1"/>
<rect x="1119.6" y="1301" width="5" height="14.8"/>
<rect x="223.9" y="533.6" width="12.6" height="6.1"/>
<rect x="1296.8" y="1301" width="5" height="27.0"/>
<rect x="212.9" y="380.7" width="23.6" height="6.1"/>
<rect x="1473.9" y="1301" width="5" height="14.8"/>
<rect x="223.9" y="227.8" width="12.6" height="6.1"/>
</g>
<g>
<text transform="translate(225.62,1379.33) scale(0.8005,1)" font-size="49.08" stroke="#000" stroke-width="0.5" stroke-linejoin="round">0</text>
<text transform="translate(555.00,1379.33) scale(0.8100,1)" font-size="49.08" x="2.28 31.11 59.75" stroke="#000" stroke-width="0.5" stroke-linejoin="round">200</text>
<text transform="translate(912.40,1379.33) scale(0.8100,1)" font-size="49.08" x="-1.52 27.15 55.80" stroke="#000" stroke-width="0.5" stroke-linejoin="round">400</text>
<text transform="translate(1263.80,1379.33) scale(0.8100,1)" font-size="49.08" x="1.62 30.61 59.25" stroke="#000" stroke-width="0.5" stroke-linejoin="round">600</text>
<text transform="translate(1618.50,1379.33) scale(0.8100,1)" font-size="49.08" x="1.04 29.87 58.51" stroke="#000" stroke-width="0.5" stroke-linejoin="round">800</text>
<text transform="translate(179.67,1314.33) scale(0.8007,1)" font-size="49.08" stroke="#000" stroke-width="0.5" stroke-linejoin="round">0</text>
<text transform="translate(132.40,1008.42) scale(0.8100,1)" font-size="49.08" x="0.61 29.50 58.20" stroke="#000" stroke-width="0.5" stroke-linejoin="round">200</text>
<text transform="translate(135.40,702.83) scale(0.8100,1)" font-size="49.08" x="-2.94 25.80 54.50" stroke="#000" stroke-width="0.5" stroke-linejoin="round">400</text>
<text transform="translate(132.40,396.92) scale(0.8100,1)" font-size="49.08" x="0.44 29.50 58.20" stroke="#000" stroke-width="0.5" stroke-linejoin="round">600</text>
<text transform="translate(133.40,91.33) scale(0.8100,1)" font-size="49.08" x="-0.62 28.27 56.97" stroke="#000" stroke-width="0.5" stroke-linejoin="round">800</text>
</g>
<use href="#tr" x="1352.6" y="151"/>
<use href="#ci" x="1352.6" y="225.4"/>
<use href="#hx" x="1352.6" y="299"/>
<line x1="1294" y1="372" x2="1412" y2="372" stroke="#ff0000" stroke-width="6"/>
<g>
<text transform="translate(1427.10,172.67) scale(0.8700,1)" font-size="58.11" x="-3.74 28.58 46.30 64.18 98.24" stroke="#000" stroke-width="0.5" stroke-linejoin="round">0 rpm</text>
<clipPath id="cl_l1"><path clip-rule="evenodd" d="M-80,-90 H900 V40 H-80 Z M-0.03,-6.51 H12.19 V2 H-0.03 Z M17.83,-6.51 H29.41 V2 H17.83 Z"/></clipPath>
<text transform="translate(1427.83,245.40) scale(0.8700,1)" font-size="57.71" x="-2.05 27.60 61.22 93.32 109.97 128.49 162.00" clip-path="url(#cl_l1)" stroke="#000" stroke-width="0.5" stroke-linejoin="round">100 rpm</text>
<text transform="translate(1428.07,318.37) scale(0.8700,1)" font-size="57.65" x="-4.59 27.35 60.97 93.03 109.72 128.24 161.76" stroke="#000" stroke-width="0.5" stroke-linejoin="round">500 rpm</text>
<text transform="translate(1428.40,392.33) scale(0.8700,1)" font-size="58.42" x="-5.78 30.31 43.81 60.66 76.69 108.84" stroke="#000" stroke-width="0.5" stroke-linejoin="round">Fifted</text>
<text transform="translate(295.70,983.87) scale(0.8700,1)" font-size="59.18" x="-6.84 26.20 42.17 74.88 107.79 123.37 165.85" stroke="#000" stroke-width="0.5" stroke-linejoin="round">3.49 Hz</text>
<text transform="translate(511.70,820.77) scale(0.8700,1)" font-size="60.01" x="-6.09 26.42 58.38 91.76 108.08 157.37 199.07" stroke="#000" stroke-width="0.5" stroke-linejoin="round">335 mHz</text>
<clipPath id="cl_a2"><path clip-rule="evenodd" d="M-80,-90 H900 V40 H-80 Z M80.49,-6.70 H93.25 V2 H80.49 Z M99.12,-6.70 H111.22 V2 H99.12 Z"/></clipPath>
<text transform="translate(1041.00,681.83) scale(0.8700,1)" font-size="60.27" x="-5.67 27.09 61.05 78.38 111.90 124.92 174.21 217.00" clip-path="url(#cl_a2)" stroke="#000" stroke-width="0.5" stroke-linejoin="round">65.1 mHz</text>
</g>
<line x1="353.5" y1="1024.2" x2="353.5" y2="1114.5" stroke="#000" stroke-width="2.7"/>
<path d="M345.9,1111.7 L361.1,1111.7 L360.9,1114.5 L355.1,1143.0 L354.1,1144.5 L352.9,1144.5 L351.9,1143.0 L346.1,1114.5 Z" fill="#000"/>
<line x1="591.9" y1="865.3" x2="591.9" y2="917.6" stroke="#000" stroke-width="2.7"/>
<path d="M584.3,914.8000000000001 L599.5,914.8000000000001 L599.3,917.6 L593.5,946.1 L592.5,947.6 L591.3,947.6 L590.3,946.1 L584.5,917.6 Z" fill="#000"/>
<line x1="1153.2" y1="719.4" x2="1153.2" y2="780.8" stroke="#000" stroke-width="2.7"/>
<path d="M1145.6000000000001,778.0 L1160.8,778.0 L1160.6000000000001,780.8 L1154.8,809.3 L1153.8,810.8 L1152.6000000000001,810.8 L1151.6000000000001,809.3 L1145.8,780.8 Z" fill="#000"/>
<g>
<text transform="translate(817.53,1484.73) scale(0.7973,1)" font-size="59.83" font-style="italic" stroke="#000" stroke-width="0.5" stroke-linejoin="round">Z</text>
<text transform="translate(844.97,1507.03) scale(0.8700,1)" font-size="32.46" letter-spacing="1.13" stroke="#000" stroke-width="0.5" stroke-linejoin="round">real</text>
<text transform="translate(908.13,1484.63) scale(0.7594,1)" font-size="57.80" stroke="#000" stroke-width="0.5" stroke-linejoin="round">(</text>
<text transform="translate(936.57,1484.77) scale(0.9107,1)" font-size="55.55" font-family='"Liberation Serif", "DejaVu Serif", serif' stroke="#000" stroke-width="0.5" stroke-linejoin="round">Ω</text>
<text transform="translate(974.87,1484.90) scale(0.8700,1)" font-size="57.85" letter-spacing="1.69" stroke="#000" stroke-width="0.5" stroke-linejoin="round">cm</text>
<text transform="translate(1043.13,1452.53) scale(0.8727,1)" font-size="33.59" stroke="#000" stroke-width="0.5" stroke-linejoin="round">2</text>
<text transform="translate(1061.10,1484.63) scale(0.7594,1)" font-size="57.80" stroke="#000" stroke-width="0.5" stroke-linejoin="round">)</text>
</g>
<g>
<text transform="translate(91.97,903.23) rotate(-90) scale(1.0127,1)" font-size="58.50" stroke="#000" stroke-width="0.5" stroke-linejoin="round">-</text>
<text transform="translate(91.93,880.73) rotate(-90) scale(0.7926,1)" font-size="60.69" font-style="italic" stroke="#000" stroke-width="0.5" stroke-linejoin="round">Z</text>
<text transform="translate(111.57,844.30) rotate(-90) scale(0.8900,1)" font-size="34.05" x="-2.82 5.42 38.29 60.86" stroke="#000" stroke-width="0.5" stroke-linejoin="round">imag</text>
<text transform="translate(91.77,769.80) rotate(-90) scale(0.8021,1)" font-size="57.73" stroke="#000" stroke-width="0.5" stroke-linejoin="round">(</text>
<text transform="translate(91.73,735.10) rotate(-90) scale(0.8916,1)" font-size="56.63" font-family='"Liberation Serif", "DejaVu Serif", serif' stroke="#000" stroke-width="0.5" stroke-linejoin="round">Ω</text>
<text transform="translate(91.80,692.10) rotate(-90) scale(0.8900,1)" font-size="59.26" x="0.44 33.45" stroke="#000" stroke-width="0.5" stroke-linejoin="round">cm</text>
<text transform="translate(63.50,613.13) rotate(-90) scale(0.8673,1)" font-size="35.09" stroke="#000" stroke-width="0.5" stroke-linejoin="round">2</text>
<text transform="translate(91.77,591.13) rotate(-90) scale(0.7859,1)" font-size="57.73" stroke="#000" stroke-width="0.5" stroke-linejoin="round">)</text>
</g>
</svg>
</body></html>
